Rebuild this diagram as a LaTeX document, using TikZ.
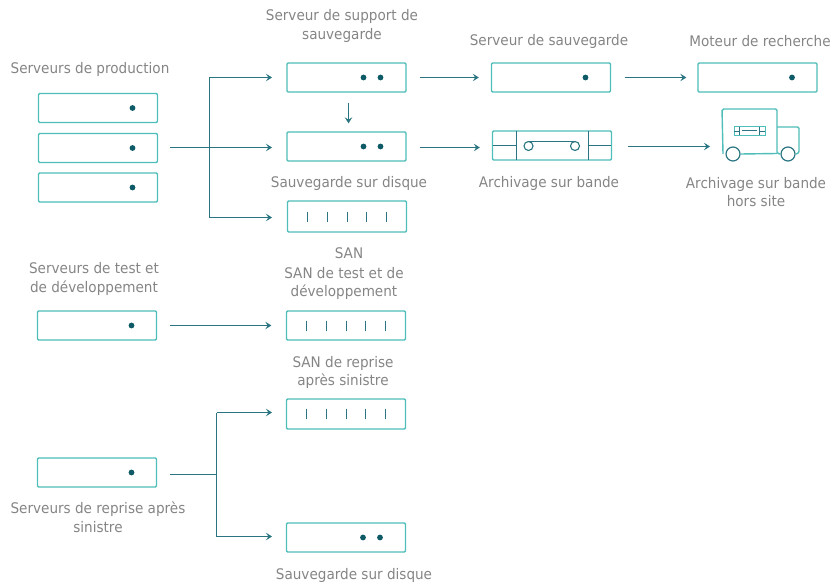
\documentclass[tikz,border=0pt]{standalone}
\usepackage{fontspec}
\setmainfont{DejaVu Sans}[FakeStretch=0.93]
\usetikzlibrary{arrows.meta}
\definecolor{boxc}{HTML}{4FBDB8}
\definecolor{linec}{HTML}{2A7581}
\definecolor{dotc}{HTML}{0E5A66}
\definecolor{txtc}{HTML}{858585}
\tikzset{
  box/.style={draw=boxc,line width=1.4pt,rounded corners=1.2pt,inner sep=0pt,minimum width=#1,minimum height=29pt},
  box/.default=119pt,
  lbl/.style={text=txtc,font=\fontsize{14.6}{18.8}\selectfont,align=center,inner sep=0pt},
  conn/.style={draw=linec,line width=1.35pt,-{Stealth[length=6pt,width=7.5pt,inset=2.4pt]}},
  trunk/.style={draw=linec,line width=1.35pt},
  dotm/.style={fill=dotc,draw=none,circle,minimum size=5.8pt,inner sep=0pt},
  tick/.style={draw=linec,line width=1pt},
  inner/.style={draw=linec,line width=1.2pt},
}
\newcommand\onedot[1]{\node[dotm] (#1d) at ([xshift=34.5pt]#1.center) {};}
\newcommand\twodots[1]{\node[dotm] (#1da) at ([xshift=17pt]#1.center) {};\node[dotm] (#1db) at ([xshift=34pt]#1.center) {};}
\newcommand\ticks[1]{\foreach \o in {-39.5,-20,0,19.5,39}{\draw[tick] ([xshift=\o pt,yshift=-5pt]#1.center) -- ([xshift=\o pt,yshift=5pt]#1.center);}}
\begin{document}
\begin{tikzpicture}[x=1pt,y=-1pt]
\useasboundingbox (0,0) rectangle (834,588);
% production
\node[box] (p1) at (98,108) {}; \onedot{p1}
\node[box] (p2) at (98,148) {}; \onedot{p2}
\node[box] (p3) at (98,187.5) {}; \onedot{p3}
\node[box] (sup) at (346.5,77.5) {}; \twodots{sup}
\node[box] (disk) at (346.5,146.5) {}; \twodots{disk}
\node[box,minimum height=31pt] (san) at (347,216.5) {}; \ticks{san}
\node[box] (srv) at (551,77.5) {}; \onedot{srv}
\node[box] (mot) at (757.5,77.5) {}; \onedot{mot}
\node[box] (tape) at (552,145.5) {};
\draw[inner] (516.5,131) -- (516.5,160);
\draw[inner] (588.5,131) -- (588.5,160);
\draw[inner] (493,145.5) -- (516.5,145.5);
\draw[inner] (588.5,145.5) -- (611,145.5);
\node[draw=linec,line width=1.1pt,circle,minimum size=9pt,inner sep=0pt] (ta) at (528.5,146) {};
\node[draw=linec,line width=1.1pt,circle,minimum size=9pt,inner sep=0pt] (tb) at (575,146) {};
\draw[inner] (528.5,141.5) -- (575,141.5);
% truck
\node[draw=linec,line width=1.2pt,circle,minimum size=14pt,inner sep=0pt] (wa) at (733,154) {};
\node[draw=linec,line width=1.2pt,circle,minimum size=14pt,inner sep=0pt] (wb) at (788,154) {};
\draw[draw=boxc,line width=1.4pt,rounded corners=1.5pt] (723,154) -- (722,109) -- (777,109) -- (777,153.5) -- (wb.west);
\draw[draw=boxc,line width=1.4pt] (wa.east) -- (777,153.5);
\draw[draw=boxc,line width=1.4pt,rounded corners=1.5pt] (777,127) -- (799,127) -- (799,153) -- (796,154);
\node[draw=boxc,line width=.7pt,minimum width=31pt,minimum height=8.5pt,inner sep=0pt] (truck) at (749.5,131) {};
\draw[draw=linec,line width=.5pt] (739,126.8) -- (739,135.2) (759.5,126.8) -- (759.5,135.2) (734,131) -- (739,131) (759.5,131) -- (765,131) (742,129.8) -- (757,129.8);
% tests
\node[box] (t) at (97,325.5) {}; \onedot{t}
\node[box] (tsan) at (346,325.5) {}; \ticks{tsan}
\node[box,minimum height=30pt] (dsan) at (346,414) {}; \ticks{dsan}
\node[box] (d) at (97,472.5) {}; \onedot{d}
\node[box] (ddisk) at (346,537.5) {}; \twodots{ddisk}
% labels
\node[lbl] (l1) at (342,26) {Serveur de support de\\sauvegarde};
\node[lbl] (l2) at (90,69.5) {Serveurs de production};
\node[lbl] (l3) at (549,41) {Serveur de sauvegarde};
\node[lbl] (l4) at (760,41.5) {Moteur de recherche};
\node[lbl] (l5) at (349,183) {Sauvegarde sur disque};
\node[lbl] (l6) at (549,183) {Archivage sur bande};
\node[lbl] (l7) at (756,192) {Archivage sur bande\\hors site};
\node[lbl] (l8) at (349,253.5) {SAN};
\node[lbl] (l9) at (344,283.5) {SAN de test et de\\développement};
\node[lbl] (l10) at (94,279) {Serveurs de test et\\de développement};
\node[lbl] (l11) at (343,372.5) {SAN de reprise\\après sinistre};
\node[lbl] (l12) at (98,517.5) {Serveurs de reprise après\\sinistre};
\node[lbl] (l13) at (354,575.5) {Sauvegarde sur disque};
% connectors
\coordinate (j1) at (209.5,147.5);
\coordinate (j1a) at (209.5,77.5);
\coordinate (j1b) at (209.5,217.5);
\coordinate (e1) at (272,77.5);
\coordinate (e2) at (272,147.5);
\coordinate (e3) at (272,217.5);
\draw[conn] ([xshift=12pt,yshift=.5pt]p2.east) -- (e2);
\draw[conn] (j1a) -- (e1);
\draw[conn] (j1b) -- (e3);
\draw[trunk] (j1a) -- (j1b);
\draw[conn] ([xshift=2pt,yshift=-10pt]sup.south) -- ([xshift=2pt,yshift=8pt]disk.north);
\draw[conn] ([xshift=13pt]sup.east) -- ([xshift=-12pt]srv.west);
\draw[conn] ([xshift=14pt]srv.east) -- ([xshift=-11pt]mot.west);
\draw[conn] ([xshift=13pt,yshift=-1pt]disk.east) -- ([xshift=-12pt,yshift=-1pt]disk.east -| tape.west);
\coordinate (truckin) at (710,146.5);
\draw[conn] ([xshift=16pt,yshift=-1pt]tape.east) -- (truckin);
\draw[conn] ([xshift=12.5pt]t.east) -- ([xshift=-14.5pt]tsan.west);
\coordinate (j2) at (216.5,474.5);
\coordinate (j2a) at (216.5,412.5);
\coordinate (j2b) at (216.5,536.5);
\coordinate (e4) at (272,412.5);
\coordinate (e5) at (272,536.5);
\draw[trunk] ([xshift=12.5pt,yshift=-2pt]d.east) -- (j2);
\draw[conn] (j2a) -- (e4);
\draw[conn] (j2b) -- (e5);
\draw[trunk] (j2a) -- (j2b);
\end{tikzpicture}
\end{document}
